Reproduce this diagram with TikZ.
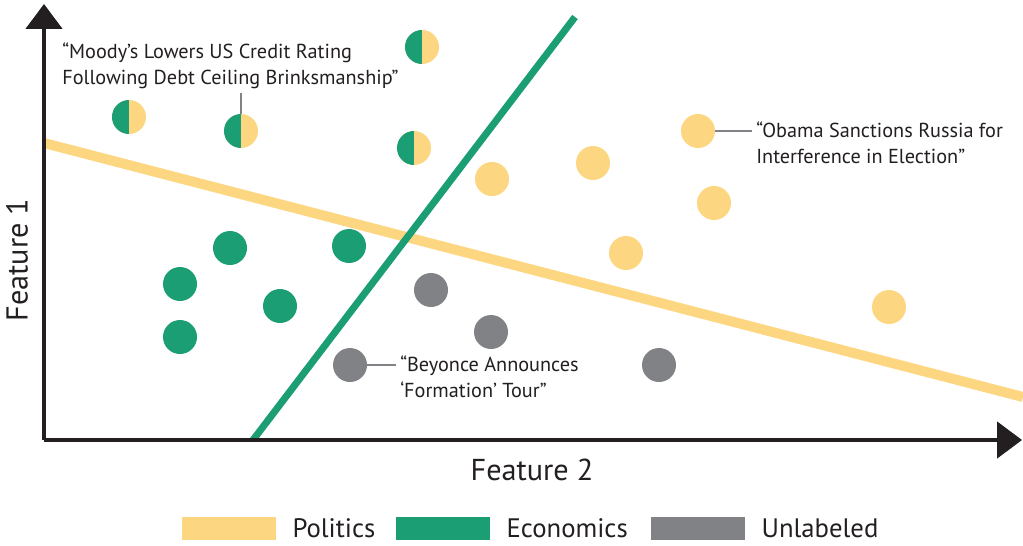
\documentclass[tikz,border=0pt]{standalone}
\usepackage{fontspec}
\setmainfont{PT Sans}
\usetikzlibrary{arrows.meta,positioning}
\definecolor{pol}{HTML}{FDD681}
\definecolor{eco}{HTML}{1B9E74}
\definecolor{unl}{HTML}{818285}
\definecolor{ink}{HTML}{231F20}
\tikzset{dot/.style={circle, inner sep=0pt, minimum size=0.85cm, fill=#1}}
\tikzset{half/.style={dot=pol, path picture={\fill[eco] (path picture bounding box.south west) rectangle (path picture bounding box.north);}}}
\tikzset{axis/.style={draw=ink, line width=0.1cm, -{Triangle[length=0.62cm, width=0.9cm]}}}
\tikzset{callout/.style={draw=unl, line width=0.07cm}}
\tikzset{quote/.style={align=left, inner sep=0.1cm, text=ink, font=\fontsize{14.4}{18.5}\selectfont}}
\tikzset{key/.style={fill=#1, minimum width=2.35cm, minimum height=0.575cm, inner sep=0pt}}
\tikzset{big/.style={text=ink, inner sep=0pt, font=\fontsize{19}{22}\selectfont}}
\tikzset{axlabel/.style={big, font=\fontsize{21.5}{24}\selectfont}}

\begin{document}
\begin{tikzpicture}[x=0.025cm, y=-0.025cm]
        \useasboundingbox (0,0) rectangle (1023,545);
        \coordinate (o)    at (44,440);
        \coordinate (ytop) at (44,4);
        \coordinate (xend) at (1022,440);
        \coordinate (pa)   at (44,143);
        \coordinate (pb)   at (1023,397);
        \coordinate (ea)   at (253,440);
        \coordinate (eb)   at (575,17);
        %
        \draw [pol, line width=0.25cm]  (pa) -- (pb);
        \draw [eco, line width=0.175cm] (ea) -- (eb);
        \draw [axis] (o) -- (ytop);
        \draw [axis] (o) -- (xend);
        %
        \node [half]      (h1) at (129,117) {};
        \node [half]      (h2) at (241,131) {};
        \node [half]      (h3) at (422,47)  {};
        \node [half]      (h4) at (414,148) {};
        %
        \node [dot=eco]   (e1) at (230,248) {};
        \node [dot=eco]   (e2) at (349,246) {};
        \node [dot=eco]   (e3) at (180,284) {};
        \node [dot=eco]   (e4) at (280,306) {};
        \node [dot=eco]   (e5) at (180,337) {};
        %
        \node [dot=pol]   (p1) at (492,179) {};
        \node [dot=pol]   (p2) at (593,163) {};
        \node [dot=pol]   (p3) at (698,131) {};
        \node [dot=pol]   (p4) at (714,203) {};
        \node [dot=pol]   (p5) at (626,253) {};
        \node [dot=pol]   (p6) at (889,307) {};
        %
        \node [dot=unl]   (u1) at (431,290) {};
        \node [dot=unl]   (u2) at (491,332) {};
        \node [dot=unl]   (u3) at (350,365) {};
        \node [dot=unl]   (u4) at (659,365) {};
        %
        \node [quote, anchor=west] (md) at (58,66)  {“Moody’s Lowers US Credit Rating\\Following Debt Ceiling Brinksmanship”};
        \node [quote, anchor=west] (ob) at (752,143) {“Obama Sanctions Russia for\\Interference in Election”};
        \node [quote, anchor=west] (by) at (396,377) {“Beyonce Announces\\‘Formation’ Tour”};
        \path [callout] (h2.north) -- (h2 |- md.south);
        \path [callout] (p3.east)  -- (p3 -| ob.west);
        \path [callout] (u3.east)  -- (u3 -| by.west);
        %
        \node [axlabel]               (f2) at (532,470) {Feature 2};
        \node [axlabel, rotate=90]    (f1) at (17,260)  {Feature 1};
        %
        \node [key=pol]                 (kp) at (229,528) {};
        \node [big, right=0.4cm of kp]  (lp)              {Politics};
        \node [key=eco]                 (ke) at (443,528) {};
        \node [big, right=0.4cm of ke]  (le)              {Economics};
        \node [key=unl]                 (ku) at (698,528) {};
        \node [big, right=0.4cm of ku]  (lu)              {Unlabeled};
\end{tikzpicture}
\end{document}
